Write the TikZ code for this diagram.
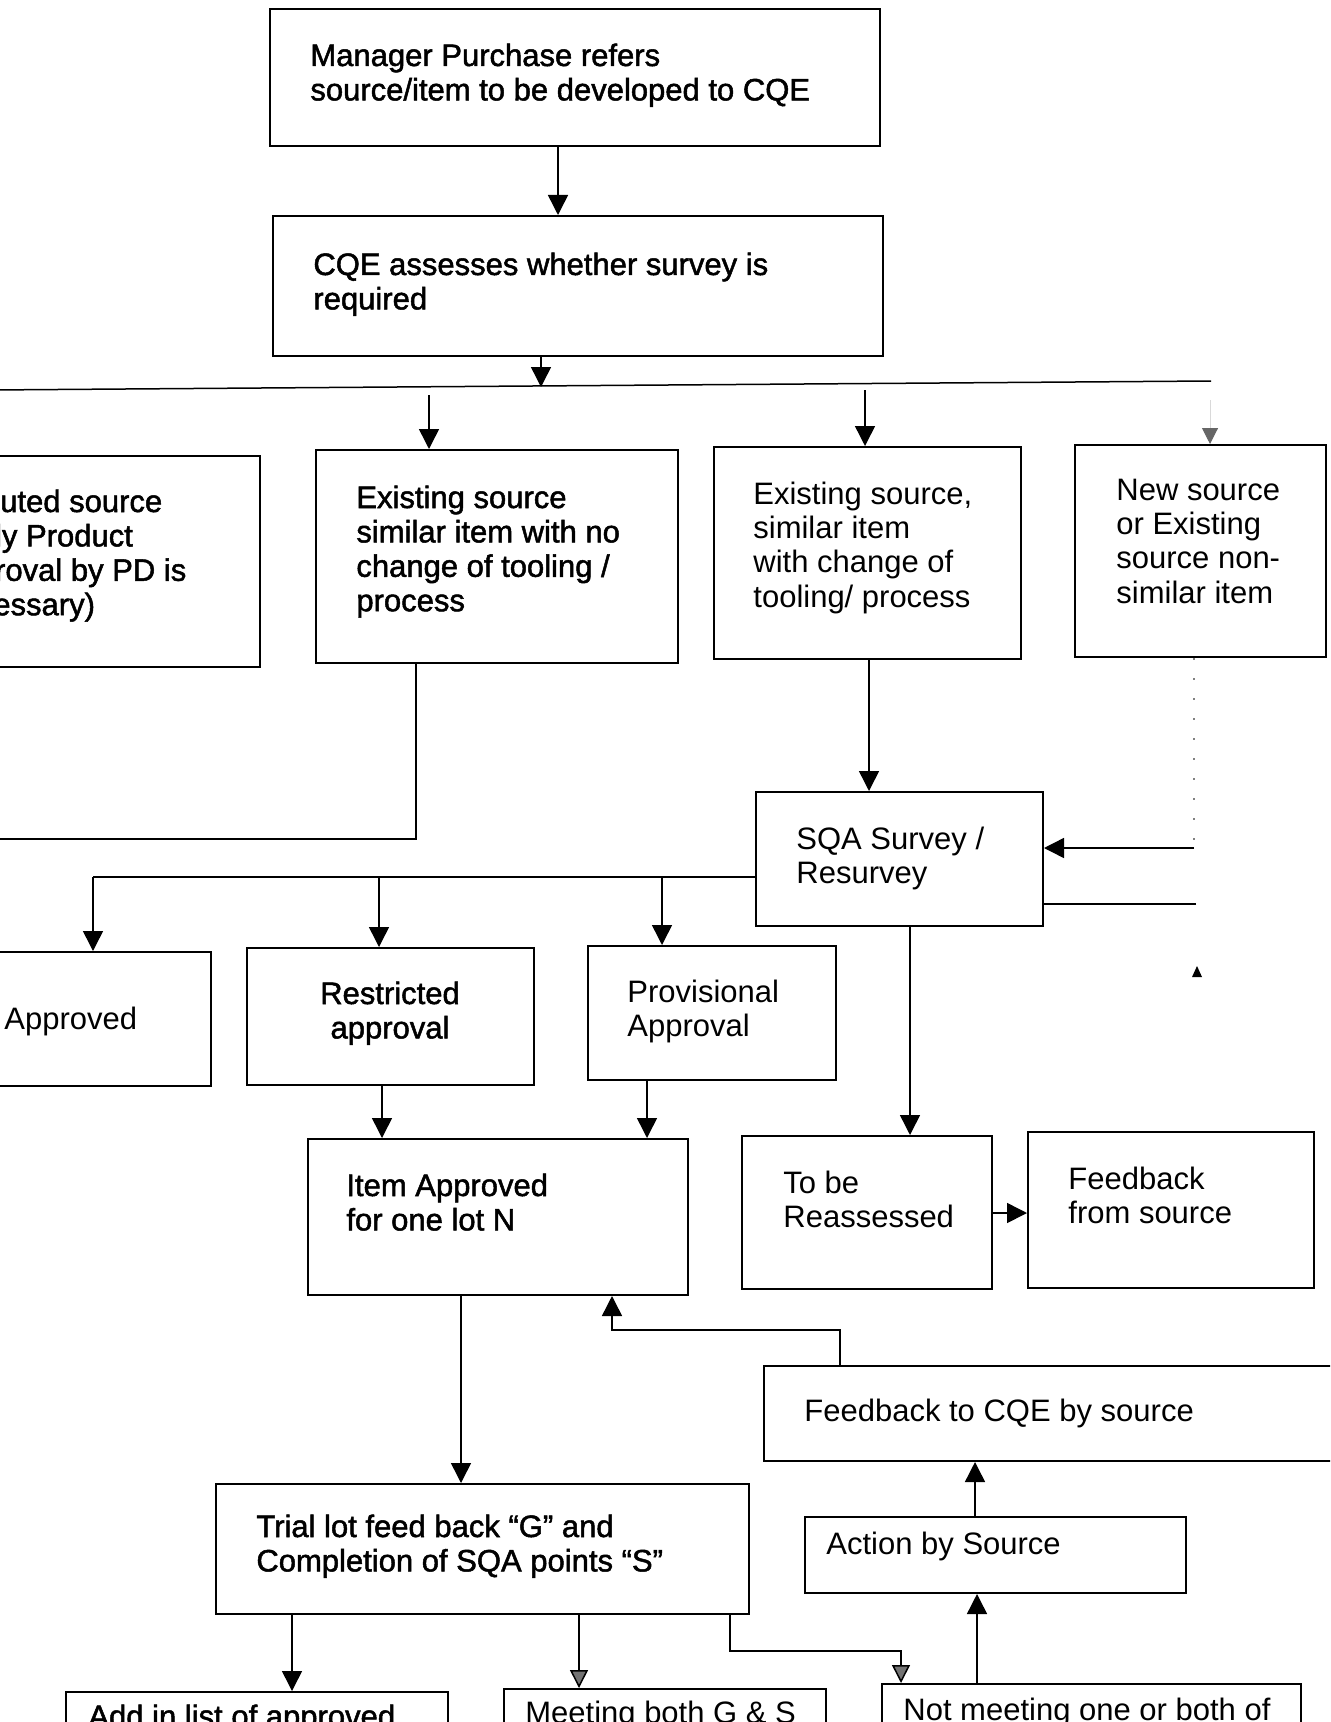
\documentclass[tikz,border=0pt]{standalone}
\usepackage{fontspec}
\setmainfont{Liberation Sans}
\newfontfamily\heavyfont{Liberation Sans}[FakeBold=1.6]
\usetikzlibrary{arrows.meta,fit}

% stacked lines, left aligned / centred, baseline on the first line
\newcommand\ml[1]{\begin{tabular}[t]{@{}l@{}}#1\end{tabular}}
\newcommand\mc[1]{\begin{tabular}[t]{@{}c@{}}#1\end{tabular}}

\begin{document}
\begin{tikzpicture}[x=0.5pt,y=-0.5pt,
  bx/.style={draw, line width=1pt, inner sep=0pt},
  txt/.style={inner sep=0pt, anchor=base west, font=\fontsize{15.5}{17.2}\selectfont},
  hvy/.style={txt, font=\heavyfont\fontsize{15.5}{17.2}\selectfont},
  ln/.style={draw, line width=0.75pt},
  arr/.style={ln, -{Triangle[width=10pt,length=10pt]}},
  farr/.style={ln, -{Triangle[width=9pt,length=9pt,fill=black!55]}},
  gharr/.style={draw, line width=0.5pt, black!15, -{Triangle[width=8pt,length=8pt,color=black!60,fill=black!60]}},
  dotln/.style={draw, line width=0.6pt, black!50, dash pattern=on 1pt off 9pt}]

\path[use as bounding box] (0,0) rectangle (1330,1722);
\fill[white] (0,0) rectangle (1330,1722);
\clip (0,0) rectangle (1330,1722);

% ---------- boxes ----------
\node[bx, fit={(270,9) (880,146)}] (A) {};
\node[bx, fit={(273,216) (883,356)}] (B) {};
\node[bx, fit={(-130,456) (260,667)}] (C) {};
\node[bx, fit={(316,450) (678,663)}] (D2) {};
\node[bx, fit={(714,447) (1021,659)}] (D3) {};
\node[bx, fit={(1075,445) (1326,657)}] (D4) {};
\node[bx, fit={(756,792) (1043,926)}] (SQA) {};
\node[bx, fit={(-130,952) (211,1086)}] (Ap) {};
\node[bx, fit={(247,948) (534,1085)}] (Rs) {};
\node[bx, fit={(588,946) (836,1080)}] (Pv) {};
\node[bx, fit={(308,1139) (688,1295)}] (Item) {};
\node[bx, fit={(742,1136) (992,1289)}] (Tb) {};
\node[bx, fit={(1028,1132) (1314,1288)}] (FS) {};
\node[bx, fit={(764,1366) (1400,1461)}] (FC) {};
\node[bx, fit={(805,1517) (1186,1593)}] (Ac) {};
\node[bx, fit={(216,1484) (749,1614)}] (Tr) {};
\node[bx, fit={(66,1692) (448,1800)}] (Ad) {};
\node[bx, fit={(504,1689) (826,1800)}] (Mt) {};
\node[bx, fit={(882,1684) (1301,1800)}] (NM) {};

% ---------- texts ----------
\node[hvy] (At) at (310,66) {\ml{Manager Purchase refers\\source/item to be developed to CQE}};
\node[hvy] (Bt) at (313,275) {\ml{CQE assesses whether survey is\\required}};
\node[hvy] (Ct) at (-57,512) {\ml{Reputed source\\(Only Product\\approval by PD is\\necessary)}};
\node[hvy] (D2t) at (356,508) {\ml{Existing source\\similar item with no\\change of tooling /\\process}};
\node[txt] (D3t) at (753,504) {\ml{Existing source,\\similar item\\with change of\\tooling/ process}};
\node[txt] (D4t) at (1116,500) {\ml{New source\\or Existing\\source non-\\similar item}};
\node[txt] (SQAt) at (796,849) {\ml{SQA Survey /\\Resurvey}};
\node[txt] (Apt) at (4,1029) {Approved};
\node[hvy, anchor=base] (Rst) at (390,1004) {\mc{Restricted\\approval}};
\node[txt] (Pvt) at (627,1002) {\ml{Provisional\\Approval}};
\node[hvy] (Itemt) at (346,1196) {\ml{Item Approved\\for one lot N}};
\node[txt] (Tbt) at (783,1193) {\ml{To be\\Reassessed}};
\node[txt] (FSt) at (1068,1189) {\ml{Feedback\\from source}};
\node[txt] (FCt) at (804,1421) {Feedback to CQE by source};
\node[txt] (Act) at (826,1554) {Action by Source};
\node[hvy] (Trt) at (256,1537) {\ml{Trial lot feed back “G” and\\Completion of SQA points “S”}};
\node[hvy] (Adt) at (88,1727) {Add in list of approved};
\node[txt] (Mtt) at (525,1723) {Meeting both G \& S};
\node[txt] (NMt) at (903,1720) {Not meeting one or both of};

% ---------- connector positions ----------
\coordinate (kAB) at (558,0);
\coordinate (kBus) at (541,0);
\coordinate (busL) at (-10,390);
\coordinate (busR) at (1211,381);
\coordinate (kD2) at (429,0);
\coordinate (kD3) at (865,0);
\coordinate (kD4) at (1210,0);
\coordinate (kD2d) at (416,0);
\coordinate (jD2) at (-10,839);
\coordinate (kD3d) at (869,0);
\coordinate (kD4d) at (1194,0);
\coordinate (kIn) at (0,848);
\coordinate (kOut) at (0,904);
\coordinate (kFS) at (1196,904);
\coordinate (kBr) at (0,877);
\coordinate (kAp) at (93,0);
\coordinate (kRs) at (379,0);
\coordinate (kPv) at (662,0);
\coordinate (kTb) at (910,0);
\coordinate (kR2) at (382,0);
\coordinate (kP2) at (647,0);
\coordinate (kFb) at (0,1213);
\coordinate (kIt) at (461,0);
\coordinate (kFC) at (840,0);
\coordinate (kRet) at (0,1330);
\coordinate (kRet2) at (612,0);
\coordinate (kAc) at (975,0);
\coordinate (kNM) at (977,0);
\coordinate (kAd) at (292,0);
\coordinate (kMt) at (579,0);
\coordinate (kT3) at (730,0);
\coordinate (kT3y) at (0,1651);
\coordinate (kT4) at (901,0);
\coordinate (bD2) at (429,395);
\coordinate (bD3) at (865,390);
\coordinate (bD4) at (1210,400);
\coordinate (bB) at (541,387);

% ---------- connectors ----------
\draw[arr] (A.south -| kAB) -- (B.north -| kAB);
\draw[arr] (B.south -| kBus) -- (bB);
\draw[ln] (busL) -- (busR);
\draw[arr] (bD2) -- (D2.north -| kD2);
\draw[arr] (bD3) -- (D3.north -| kD3);
\draw[gharr] (bD4) -- (D4.north -| kD4);
\draw[ln] (D2.south -| kD2d) -- (kD2d |- jD2) -- (jD2);
\draw[arr] (D3.south -| kD3d) -- (SQA.north -| kD3d);
\draw[dotln] (D4.south -| kD4d) -- (kD4d |- kIn);
\draw[arr] (kD4d |- kIn) -- (SQA.east |- kIn);
\draw[ln] (kFS) -- (SQA.east |- kOut);
\fill (1197,966) -- (1192,977) -- (1202,977) -- cycle;
\draw[ln] (SQA.west |- kBr) -- (kAp |- kBr);
\draw[arr] (kAp |- kBr) -- (Ap.north -| kAp);
\draw[arr] (kRs |- kBr) -- (Rs.north -| kRs);
\draw[arr] (kPv |- kBr) -- (Pv.north -| kPv);
\draw[arr] (SQA.south -| kTb) -- (Tb.north -| kTb);
\draw[arr] (Rs.south -| kR2) -- (Item.north -| kR2);
\draw[arr] (Pv.south -| kP2) -- (Item.north -| kP2);
\draw[arr] (Tb.east |- kFb) -- (FS.west |- kFb);
\draw[arr] (Item.south -| kIt) -- (Tr.north -| kIt);
\draw[arr] (FC.north -| kFC) -- (kFC |- kRet) -- (kRet2 |- kRet) -- (Item.south -| kRet2);
\draw[arr] (Ac.north -| kAc) -- (FC.south -| kAc);
\draw[arr] (NM.north -| kNM) -- (Ac.south -| kNM);
\draw[arr] (Tr.south -| kAd) -- (Ad.north -| kAd);
\draw[farr] (Tr.south -| kMt) -- (Mt.north -| kMt);
\draw[farr] (Tr.south -| kT3) -- (kT3 |- kT3y) -- (kT4 |- kT3y) -- (NM.north -| kT4);
\end{tikzpicture}
\end{document}
